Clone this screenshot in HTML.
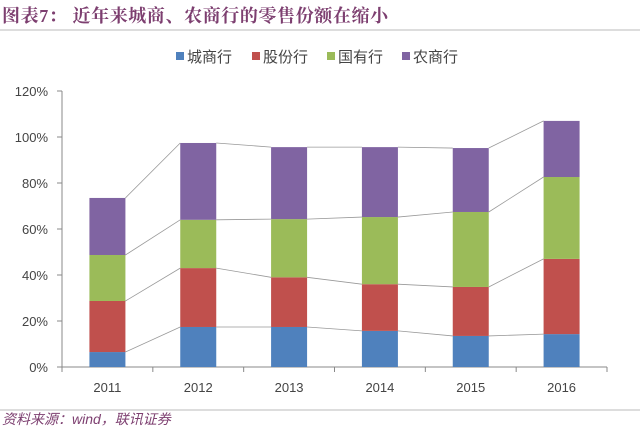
<!DOCTYPE html>
<html><head><meta charset="utf-8"><style>
body{margin:0;background:#fff;width:640px;height:426px;overflow:hidden;font-family:"Liberation Sans","Noto Sans CJK SC",sans-serif}
</style></head><body>
<svg width="640" height="426" style="display:block">
<text x="2" y="22" font-size="18" font-weight="bold" fill="#7d3f70" letter-spacing="0.6" font-family="Liberation Serif,Noto Serif CJK SC,serif">图表7：   近年来城商、农商行的零售份额在缩小</text>
<line x1="0" y1="30" x2="640" y2="30" stroke="#bbb"/>
<g id="legend"></g>
<g id="plot"></g>
<line x1="0" y1="410" x2="640" y2="410" stroke="#bbb"/>
<text x="2" y="424" font-size="14" font-style="italic" fill="#7d3f70">资料来源：wind，联讯证券</text>
</svg>
<script>
const categories=["2011","2012","2013","2014","2015","2016"];
const seriesNames=["城商行","股份行","国有行","农商行"];
const chengshang=[6.5,17.4,17.4,15.7,13.5,14.3];
const gufen=[22.2,25.6,21.6,20.3,21.3,32.7];
const guoyou=[20,21,25.3,29.2,32.6,35.6];
const nongshang=[24.8,33.4,31.3,30.4,27.8,24.4];
const yTicks=[0,20,40,60,80,100,120];
const colors=["#4f81bd","#c0504d","#9bbb59","#8064a2"];
const NS="http://www.w3.org/2000/svg";
const x0=62,x1=607,y0=367,yTop=91,bw=36;
const step=(x1-x0)/categories.length;
const xC=i=>x0+step*(i+0.5);
const yS=v=>y0-(v/120)*(y0-yTop);
const plot=document.getElementById('plot');
function mk(t,a,p){const e=document.createElementNS(NS,t);for(const k in a)e.setAttribute(k,a[k]);(p||plot).appendChild(e);return e;}
let ax=mk('line',{x1:x0,y1:yTop,x2:x0,y2:y0,stroke:'#888'});


let bx=mk('line',{x1:x0,y1:y0,x2:x1,y2:y0,stroke:'#888'});


yTicks.forEach(t=>{
  const y=yS(t);
  const tk=mk('line',{x1:x0-5,y1:y,x2:x0,y2:y,stroke:'#888'});
  
  
  const tx=mk('text',{x:x0-14,y:y+5,'text-anchor':'end','font-size':13,fill:'#444'});
  tx.textContent=t+'%';
  
  
});
for(let i=0;i<=categories.length;i++){
  const tk=mk('line',{x1:x0+step*i,y1:y0,x2:x0+step*i,y2:y0+5,stroke:'#888'});
  
  
}
const series=[chengshang,gufen,guoyou,nongshang];
const cum=categories.map((c,i)=>{let s=0;return series.map(a=>s+=a[i]);});
for(let i=0;i<categories.length-1;i++){
  for(let k=0;k<4;k++){
    const l=mk('line',{x1:xC(i)+bw/2,y1:yS(cum[i][k]),x2:xC(i+1)-bw/2,y2:yS(cum[i+1][k]),stroke:'#999','stroke-width':0.8});
    
    
  }
}
categories.forEach((c,i)=>{
  let base=0;
  series.forEach((a,k)=>{
    const r=mk('rect',{x:xC(i)-bw/2,y:yS(base+a[i]),width:bw,height:yS(base)-yS(base+a[i]),fill:colors[k]});
    
    
    base+=a[i];
  });
  const tx=mk('text',{x:xC(i),y:y0+25,'text-anchor':'middle','font-size':13,fill:'#444'});
  tx.textContent=c;
  
  
});
const lg=document.getElementById('legend');
const lx=[176,252,327,402];
seriesNames.forEach((n,k)=>{
  const r=mk('rect',{x:lx[k],y:52,width:8,height:8,fill:colors[k]},lg);
  
  
  const t=mk('text',{x:lx[k]+11,y:62,'font-size':15,fill:'#444'},lg);
  t.textContent=n;
  
  
});
</script>
</body></html>
